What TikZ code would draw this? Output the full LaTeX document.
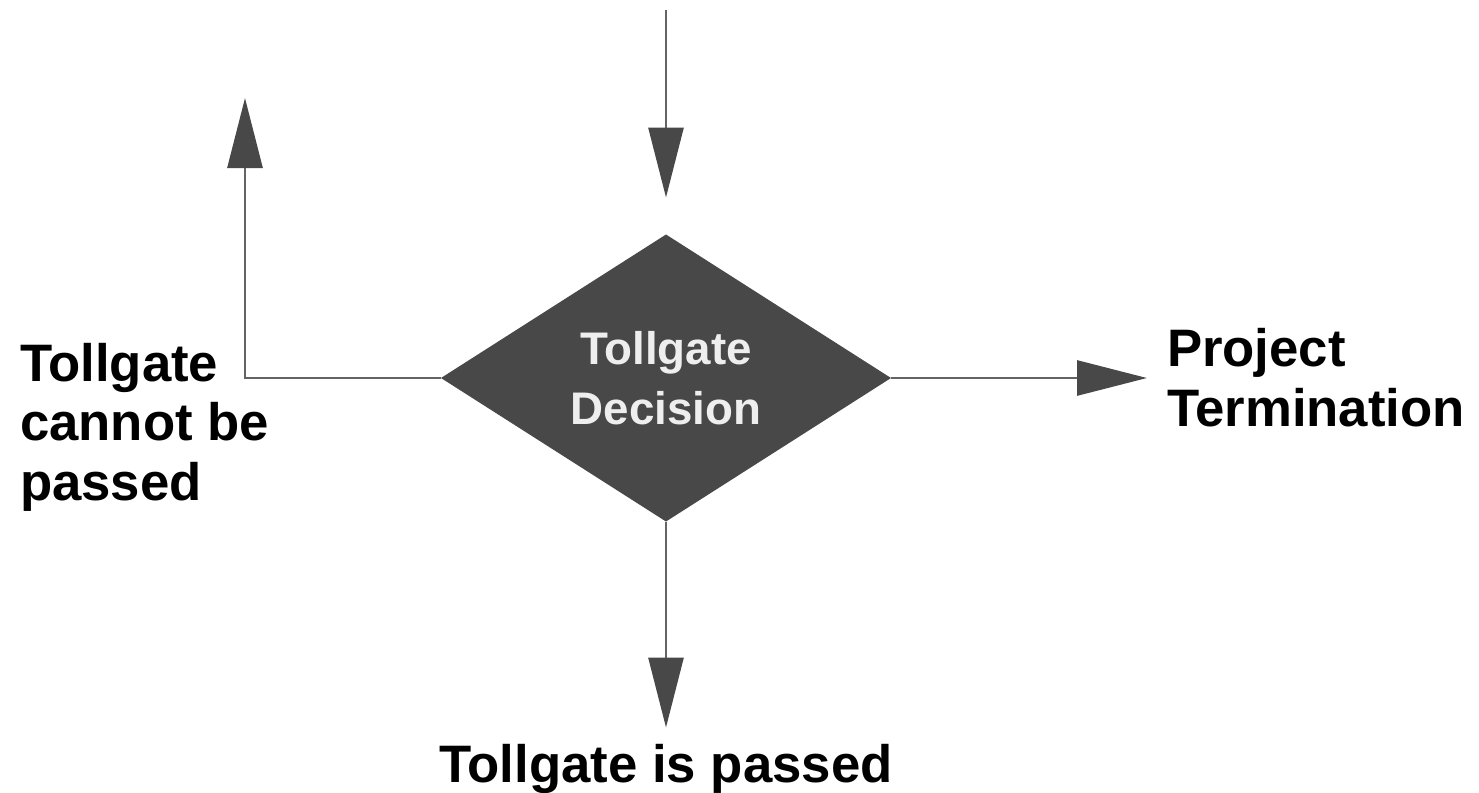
\documentclass[tikz,border=0pt]{standalone}
\usepackage{fontspec}
\setmainfont{Liberation Sans}
\usetikzlibrary{arrows.meta,positioning,shapes.geometric}
\definecolor{dgray}{RGB}{72,72,72}
\definecolor{lgray}{RGB}{100,100,100}
\definecolor{tgray}{RGB}{238,238,238}

\begin{document}
\begin{tikzpicture}[
  dm/.style={diamond, fill=dgray, inner sep=0pt, outer sep=0pt,
             minimum width=9cm, minimum height=5.74cm, align=center,
             text=tgray, font=\fontsize{26}{34}\selectfont\bfseries},
  lb/.style={inner sep=0pt, outer sep=0pt, align=left,
             font=\fontsize{30}{34}\selectfont\bfseries},
  ar/.style={draw=lgray, line width=1.6pt,
             -{Triangle[length=1.4cm,width=0.7cm,color=dgray]}}]
\useasboundingbox (0,0) rectangle (29.58,-15.84);
\node[dm] (dec) at (13.32,-7.56) {Tollgate\\Decision};
\coordinate (src) at (13.32,-0.2);
\coordinate[above=0.74cm of dec.north] (in);
\coordinate (bend) at (4.9,-7.56);
\coordinate (up) at (4.9,-1.96);
\coordinate[right=5.12cm of dec.east] (stop);
\coordinate[below=4.12cm of dec.south] (pass);
\node[lb, anchor=north west] (nopass) at (0.4,-6.86) {Tollgate\\cannot be\\passed};
\node[lb, right=0.4cm of stop] (term) {Project\\Termination};
\node[lb, below=0.34cm of pass] (ok) {Tollgate is passed};
\draw[ar] (src) -- (in);
\draw[ar] (dec.west) -- (bend) -- (up);
\draw[ar] (dec.east) -- (stop);
\draw[ar] (dec.south) -- (pass);
\end{tikzpicture}
\end{document}
